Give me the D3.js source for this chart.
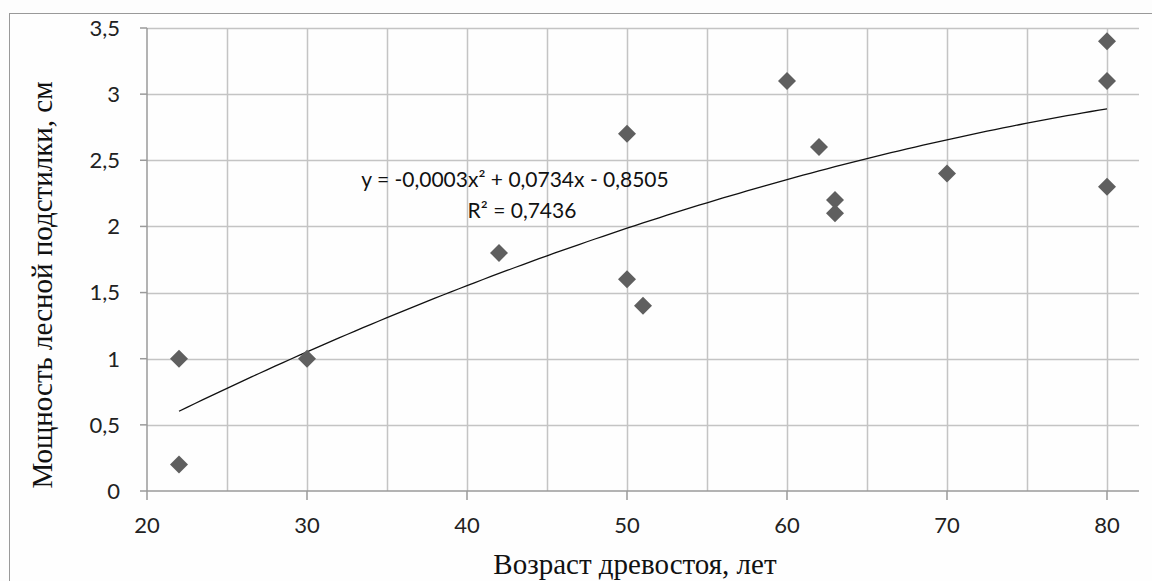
<!DOCTYPE html>
<html>
<head>
<meta charset="utf-8">
<script src="https://cdn.jsdelivr.net/npm/d3@7"></script>
<style>
  body { margin: 0; background: #fdfdfd; }
  svg { display: block; }
  .tick-label { font-family: Lato, "Open Sans", sans-serif; font-size: 22px; fill: #222; }
  .title { font-family: "Liberation Serif", "DejaVu Serif", serif; font-size: 29px; fill: #111; }
  .eq { font-family: Lato, "Open Sans", sans-serif; font-size: 21px; fill: #111; }
</style>
</head>
<body>
<div id="chart"></div>
<script>
// values
const ages = [22, 22, 30, 42, 50, 50, 51, 60, 62, 63, 63, 70, 80, 80, 80];
const litter = [1.0, 0.2, 1.0, 1.8, 2.7, 1.6, 1.4, 3.1, 2.6, 2.2, 2.1, 2.4, 3.4, 3.1, 2.3];
const xTicks = [20, 30, 40, 50, 60, 70, 80];
const xGrid = [20, 25, 30, 35, 40, 45, 50, 55, 60, 65, 70, 75, 80];
const yTicks = [0, 0.5, 1, 1.5, 2, 2.5, 3, 3.5];
const eqLines = ["y = -0,0003x² + 0,0734x - 0,8505", "R² = 0,7436"];
const xTitle = "Возраст древостоя, лет";
const yTitle = "Мощность лесной подстилки, см";

const W = 1152, H = 581;
const x = d3.scaleLinear().domain([20, 82]).range([147, 1139]);
const y = d3.scaleLinear().domain([0, 3.5]).range([491, 28]);
const fmt = v => String(v).replace(".", ",");

const svg = d3.select("#chart").append("svg")
  .attr("width", W).attr("height", H);

svg.append("rect").attr("width", W).attr("height", H).attr("fill", "#fdfdfd");

// chart frame (runs off the right and bottom edge)
svg.append("rect")
  .attr("x", 9.5).attr("y", 13.5)
  .attr("width", W + 20).attr("height", H + 20)
  .attr("fill", "#fefefe").attr("stroke", "#999");

// grid
svg.append("g").selectAll("line.h")
  .data(yTicks.slice(1))
  .enter().append("line")
  .attr("x1", x(20)).attr("x2", x(82))
  .attr("y1", d => Math.round(y(d)) + 0.5).attr("y2", d => Math.round(y(d)) + 0.5)
  .attr("stroke", "#c4c4c4").attr("stroke-width", 1.5);

svg.append("g").selectAll("line.v")
  .data(xGrid.slice(1))
  .enter().append("line")
  .attr("x1", d => Math.round(x(d)) + 0.5).attr("x2", d => Math.round(x(d)) + 0.5)
  .attr("y1", y(3.5)).attr("y2", y(0))
  .attr("stroke", "#c4c4c4").attr("stroke-width", 1.5);

// axes
const axisColor = "#9a9a9a";
svg.append("line")
  .attr("x1", x(20)).attr("x2", x(82))
  .attr("y1", y(0)).attr("y2", y(0))
  .attr("stroke", axisColor).attr("stroke-width", 1.5);
svg.append("line")
  .attr("x1", x(20)).attr("x2", x(20))
  .attr("y1", y(3.5)).attr("y2", y(0))
  .attr("stroke", axisColor).attr("stroke-width", 1.5);

svg.append("g").selectAll("line")
  .data(yTicks).enter().append("line")
  .attr("x1", x(20) - 7).attr("x2", x(20))
  .attr("y1", d => y(d)).attr("y2", d => y(d))
  .attr("stroke", axisColor).attr("stroke-width", 1.5);

svg.append("g").selectAll("line")
  .data(xTicks).enter().append("line")
  .attr("x1", d => x(d)).attr("x2", d => x(d))
  .attr("y1", y(0)).attr("y2", y(0) + 9)
  .attr("stroke", axisColor).attr("stroke-width", 1.5);

svg.append("g").selectAll("text")
  .data(yTicks).enter().append("text")
  .attr("class", "tick-label")
  .attr("x", 120).attr("y", d => y(d))
  .attr("dy", "0.36em")
  .attr("text-anchor", "end")
  .text(fmt);

svg.append("g").selectAll("text")
  .data(xTicks).enter().append("text")
  .attr("class", "tick-label")
  .attr("x", d => x(d)).attr("y", 533)
  .attr("text-anchor", "middle")
  .text(d => d);

// titles
svg.append("text").attr("class", "title")
  .attr("x", 635).attr("y", 574)
  .attr("text-anchor", "middle")
  .text(xTitle);

svg.append("text").attr("class", "title")
  .attr("transform", "translate(52,285) rotate(-90)")
  .attr("text-anchor", "middle")
  .text(yTitle);

// quadratic least squares trend, like the spreadsheet trendline
function quadFit(xs, ys) {
  const s = [0, 0, 0, 0, 0], t = [0, 0, 0];
  xs.forEach((xi, i) => {
    for (let k = 0; k < 5; k++) s[k] += Math.pow(xi, k);
    for (let k = 0; k < 3; k++) t[k] += ys[i] * Math.pow(xi, k);
  });
  const A = [[s[0], s[1], s[2], t[0]], [s[1], s[2], s[3], t[1]], [s[2], s[3], s[4], t[2]]];
  for (let c = 0; c < 3; c++) {
    for (let r = c + 1; r < 3; r++) {
      const f = A[r][c] / A[c][c];
      for (let k = c; k < 4; k++) A[r][k] -= f * A[c][k];
    }
  }
  const b = [0, 0, 0];
  for (let r = 2; r >= 0; r--) {
    let v = A[r][3];
    for (let k = r + 1; k < 3; k++) v -= A[r][k] * b[k];
    b[r] = v / A[r][r];
  }
  return b; // c0, c1, c2
}
const coef = quadFit(ages, litter);
const trend = d3.range(d3.min(ages), d3.max(ages) + 0.001, 0.5)
  .map(a => [a, coef[0] + coef[1] * a + coef[2] * a * a]);

svg.append("path")
  .datum(trend)
  .attr("fill", "none")
  .attr("stroke", "#111")
  .attr("stroke-width", 1.3)
  .attr("d", d3.line().x(d => x(d[0])).y(d => y(d[1])));

// markers
svg.append("g").selectAll("path")
  .data(ages.map((a, i) => [a, litter[i]]))
  .enter().append("path")
  .attr("transform", d => `translate(${x(d[0])},${y(d[1])})`)
  .attr("d", "M0,-9L9,0L0,9L-9,0Z")
  .attr("fill", "#5f5f5f");

// equation label
svg.append("g").selectAll("text")
  .data(eqLines).enter().append("text")
  .attr("class", "eq")
  .attr("x", (d, i) => i ? 522 : 515)
  .attr("y", (d, i) => 179 + i * 31)
  .attr("dy", "0.36em")
  .attr("text-anchor", "middle")
  .text(d => d);
</script>
</body>
</html>
